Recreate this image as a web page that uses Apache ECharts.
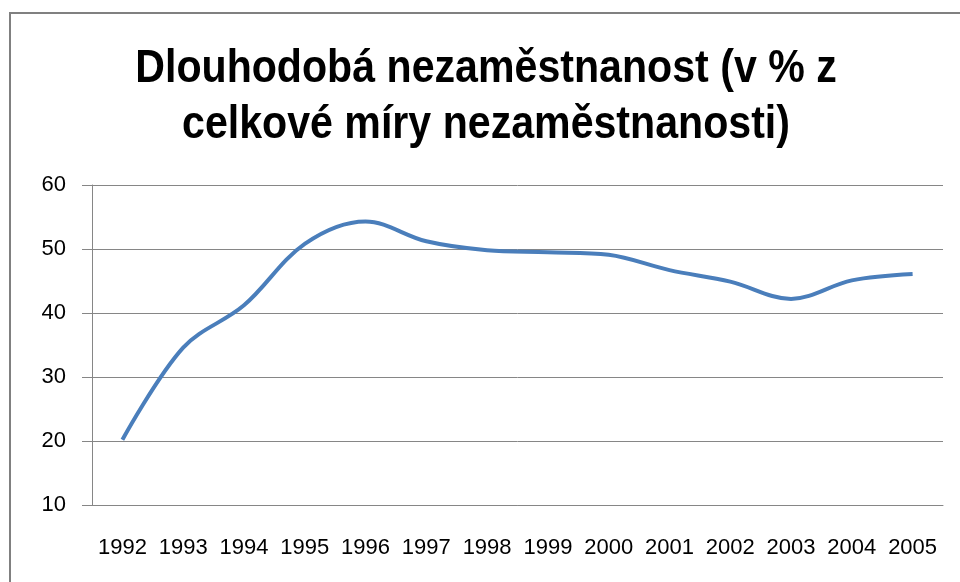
<!DOCTYPE html>
<html>
<head>
<meta charset="utf-8">
<script src="https://cdn.jsdelivr.net/npm/echarts@6/dist/echarts.min.js"></script>
<style>
  html, body { margin: 0; padding: 0; background: #fff; }
  #chart { width: 960px; height: 582px; }
</style>
</head>
<body>
<div id="chart"></div>
<script>
// data
const years = ['1992', '1993', '1994', '1995', '1996', '1997', '1998',
  '1999', '2000', '2001', '2002', '2003', '2004', '2005'];
const longTermShare = [20.2, 34.6, 41.2, 50.8, 54.3, 51.2, 49.8,
  49.5, 49.1, 46.7, 44.9, 42.2, 45.1, 46.1];
const titleLines = ['Dlouhodobá nezaměstnanost (v % z', 'celkové míry nezaměstnanosti)'];

const font = '"Liberation Sans", Arial, sans-serif';
const gray = '#868686';

const myChart = echarts.init(document.getElementById('chart'));

myChart.setOption({
  animation: false,
  graphic: [
    // ramecek grafu
    {
      type: 'rect',
      shape: { x: 10, y: 13, width: 1000, height: 1000 },
      style: { fill: 'none', stroke: '#808080', lineWidth: 2 },
      silent: true
    },
    // nadpis - uzsi pismo (Calibri neni k dispozici)
    {
      type: 'text',
      x: 486,
      y: 41,
      scaleX: 0.875,
      style: {
        text: titleLines.join('\n'),
        fontFamily: font,
        fontWeight: 'bold',
        fontSize: 47,
        lineHeight: 56,
        fill: '#000',
        align: 'center',
        textAlign: 'center',
        verticalAlign: 'top',
        textVerticalAlign: 'top'
      },
      silent: true
    }
  ],
  grid: { left: 92, right: 17, top: 185, bottom: 77 },
  xAxis: {
    type: 'category',
    data: years,
    boundaryGap: true,
    axisLine: { lineStyle: { color: gray, width: 1 } },
    axisTick: { length: 7, lineStyle: { color: gray } },
    axisLabel: { interval: 0, margin: 32, color: '#000', fontFamily: font, fontSize: 22 }
  },
  yAxis: {
    type: 'value',
    min: 10,
    max: 60,
    interval: 10,
    axisLine: { show: true, lineStyle: { color: gray, width: 1 } },
    axisTick: { show: true, length: 10, lineStyle: { color: gray } },
    axisLabel: { margin: 26, color: '#000', fontFamily: font, fontSize: 22 },
    splitLine: { lineStyle: { color: gray, width: 1 } }
  },
  series: [{
    type: 'line',
    data: longTermShare,
    smooth: 0.35,
    symbol: 'none',
    lineStyle: { color: '#4a7ebb', width: 4 }
  }]
});
</script>
</body>
</html>
